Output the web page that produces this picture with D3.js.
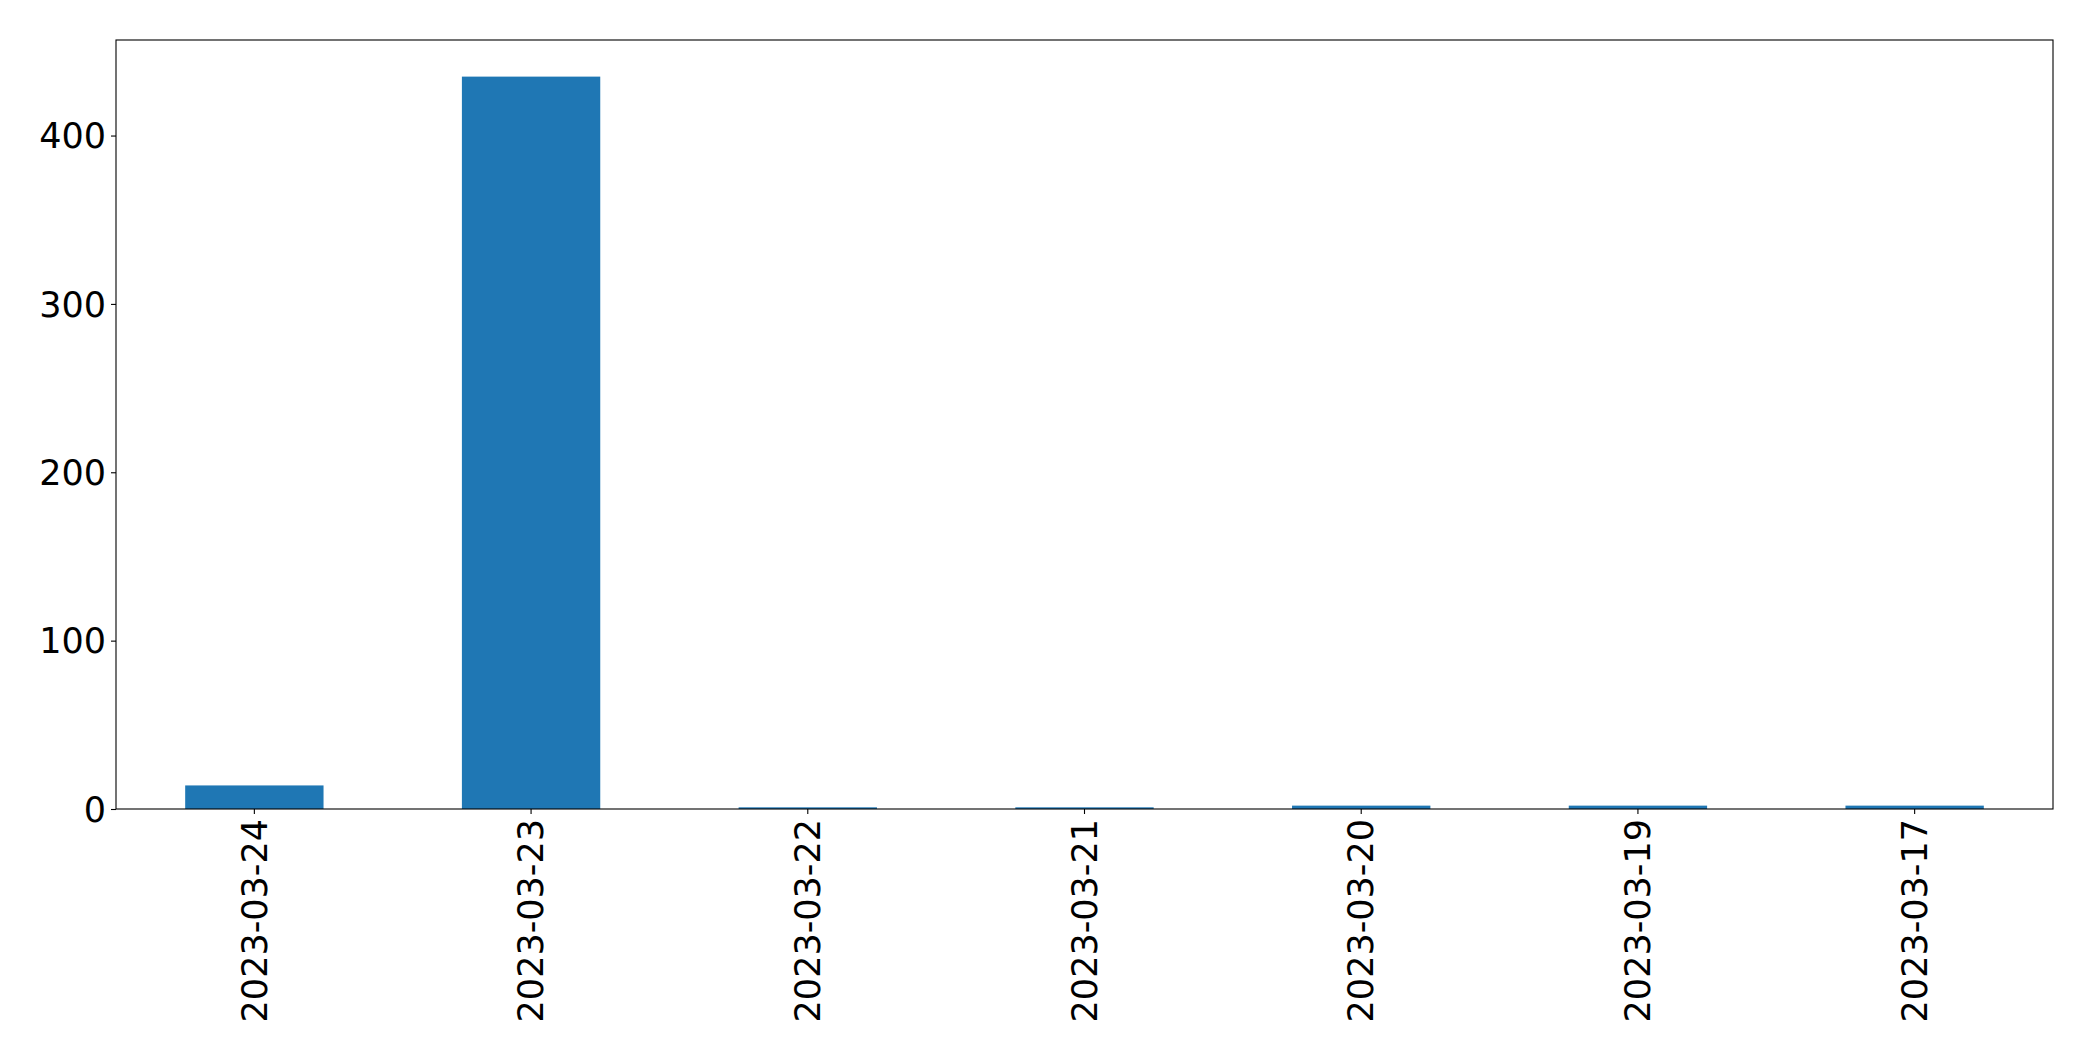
<html>
 <head>
   <meta charset="UTF-8">
   <title>Counts per day</title>
   <script src="https://d3js.org/d3.v7.min.js"></script>
   <style>
     body { margin: 0; background: #fff; }
     .tick text { font-family: "DejaVu Sans", sans-serif; font-size: 35px; fill: #000; }
   </style>
 </head>
 <body>
   <div id="chart"></div>

   <script>
   // data
   var dates = ["2023-03-24", "2023-03-23", "2023-03-22", "2023-03-21",
                "2023-03-20", "2023-03-19", "2023-03-17"];
   var counts = [14, 435, 1, 1, 2, 2, 2];
   var yTicks = [0, 100, 200, 300, 400];

   var margin = {top: 40, right: 40, bottom: 252, left: 116},
       width = 2093 - margin.left - margin.right,
       height = 1061 - margin.top - margin.bottom;

   var svg = d3.select("#chart").append("svg")
     .attr("width", 2093)
     .attr("height", 1061)
     .append("g")
     .attr("transform", "translate(" + margin.left + "," + margin.top + ")");

   var xScale = d3.scaleBand()
     .domain(dates)
     .range([0, width])
     .paddingInner(0.5)
     .paddingOuter(0.25);

   // matplotlib style 5% headroom over the max
   var yScale = d3.scaleLinear()
     .domain([0, d3.max(counts) * 1.05])
     .range([height, 0]);

   svg.selectAll(".bar")
     .data(counts)
     .enter().append("rect")
     .attr("class", "bar")
     .attr("x", function(d, i) { return xScale(dates[i]); })
     .attr("width", xScale.bandwidth())
     .attr("y", function(d) { return yScale(d); })
     .attr("height", function(d) { return height - yScale(d); })
     .attr("fill", "#1f77b4");

   // y axis
   var yAxis = d3.axisLeft(yScale)
     .tickValues(yTicks)
     .tickSize(5)
     .tickPadding(5)
     .tickFormat(d3.format("d"));

   var gy = svg.append("g").call(yAxis);
   gy.select(".domain").remove();
   gy.selectAll("line").attr("stroke", "#000").attr("stroke-width", 1.1);
   gy.selectAll("text").attr("dy", "0.35em");

   // x axis
   var xAxis = d3.axisBottom(xScale)
     .tickSize(5)
     .tickPadding(5);

   var gx = svg.append("g")
     .attr("transform", "translate(0," + height + ")")
     .call(xAxis);
   gx.select(".domain").remove();
   gx.selectAll("line").attr("stroke", "#000").attr("stroke-width", 1.1);
   gx.selectAll("text")
     .attr("transform", "rotate(-90)")
     .attr("x", -10)
     .attr("y", 0)
     .attr("dy", "0.35em")
     .style("text-anchor", "end");

   // frame
   svg.append("rect")
     .attr("x", 0)
     .attr("y", 0)
     .attr("width", width)
     .attr("height", height)
     .attr("fill", "none")
     .attr("stroke", "#000")
     .attr("stroke-width", 1.1);
   </script>
 </body>
</html>
